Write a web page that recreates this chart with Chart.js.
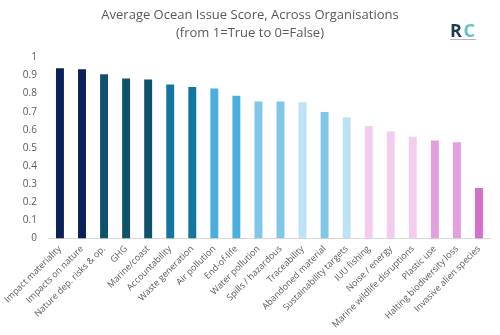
<!DOCTYPE html>
<html>
<head>
<meta charset="utf-8">
<script src="https://cdn.jsdelivr.net/npm/chart.js@4.4.0/dist/chart.umd.min.js"></script>
<style>
  html, body { margin: 0; padding: 0; background: #fff; }
  #wrap { position: relative; width: 500px; height: 335px; }
  #logo {
    position: absolute; left: 450px; top: 21px;
    font-family: "Open Sans", sans-serif; font-weight: 700; font-size: 18px;
    letter-spacing: 1.5px; line-height: 18px;
    border-bottom: 1.5px solid #c9a6e0;
  }
  #logo .r { color: #1d3d4f; }
  #logo .c { color: #5cc3c8; }
</style>
</head>
<body>
<div id="wrap">
  <canvas id="chart" width="500" height="335"></canvas>
  <div id="logo"><span class="r">R</span><span class="c">C</span></div>
</div>
<script>
const categories = [
  "Impact materiality", "Impacts on nature", "Nature dep. risks & op.", "GHG",
  "Marine/coast", "Accountability", "Waste generation", "Air pollution",
  "End-of-life", "Water pollution", "Spills / hazardous", "Traceability",
  "Abandoned material", "Sustainability targets", "IUU fishing", "Noise / energy",
  "Marine wildlife disruptions", "Plastic use", "Halting biodiversity loss",
  "Invasive alien species"
];
const scores = [
  0.94, 0.934, 0.907, 0.883, 0.878, 0.85, 0.836, 0.829, 0.788, 0.757,
  0.757, 0.752, 0.699, 0.67, 0.622, 0.591, 0.562, 0.542, 0.531, 0.279
];
const barColors = [
  "#0b2059", "#0b2059", "#0e536b", "#0e536b", "#0e536b", "#1476a0", "#1476a0",
  "#4aafde", "#4aafde", "#7fc6e8", "#7fc6e8", "#bde2f4", "#7fc6e8", "#bde2f4",
  "#f2cdee", "#f2cdee", "#f2cdee", "#e3a0dc", "#e3a0dc", "#d56fcb"
];
const titleLines = ["Average Ocean Issue Score, Across Organisations", "(from 1=True to 0=False)"];

new Chart(document.getElementById("chart").getContext("2d"), {
  type: "bar",
  data: {
    labels: categories,
    datasets: [{
      data: scores,
      backgroundColor: barColors,
      barPercentage: 0.36,
      categoryPercentage: 1
    }]
  },
  options: {
    responsive: false,
    animation: false,
    layout: { padding: { left: 10, right: 10, top: 0, bottom: 0 } },
    plugins: {
      legend: { display: false },
      tooltip: { enabled: false },
      title: {
        display: true,
        text: titleLines,
        color: "#595959",
        font: { family: "Open Sans", size: 13, weight: "normal", lineHeight: 1.4 },
        padding: { top: 6, bottom: 15 }
      }
    },
    scales: {
      x: {
        grid: { display: false, drawTicks: false },
        border: { display: true, color: "#d9d9d9" },
        ticks: {
          color: "#595959",
          font: { family: "Open Sans", size: 9 },
          maxRotation: 45,
          minRotation: 45,
          padding: 5,
          autoSkip: false
        }
      },
      y: {
        min: 0,
        max: 1,
        grid: { display: false, drawTicks: false },
        border: { display: false },
        ticks: {
          stepSize: 0.1,
          color: "#595959",
          font: { family: "Open Sans", size: 10 },
          padding: 12,
          callback: v => Math.round(v * 10) / 10
        }
      }
    }
  }
});
</script>
</body>
</html>
